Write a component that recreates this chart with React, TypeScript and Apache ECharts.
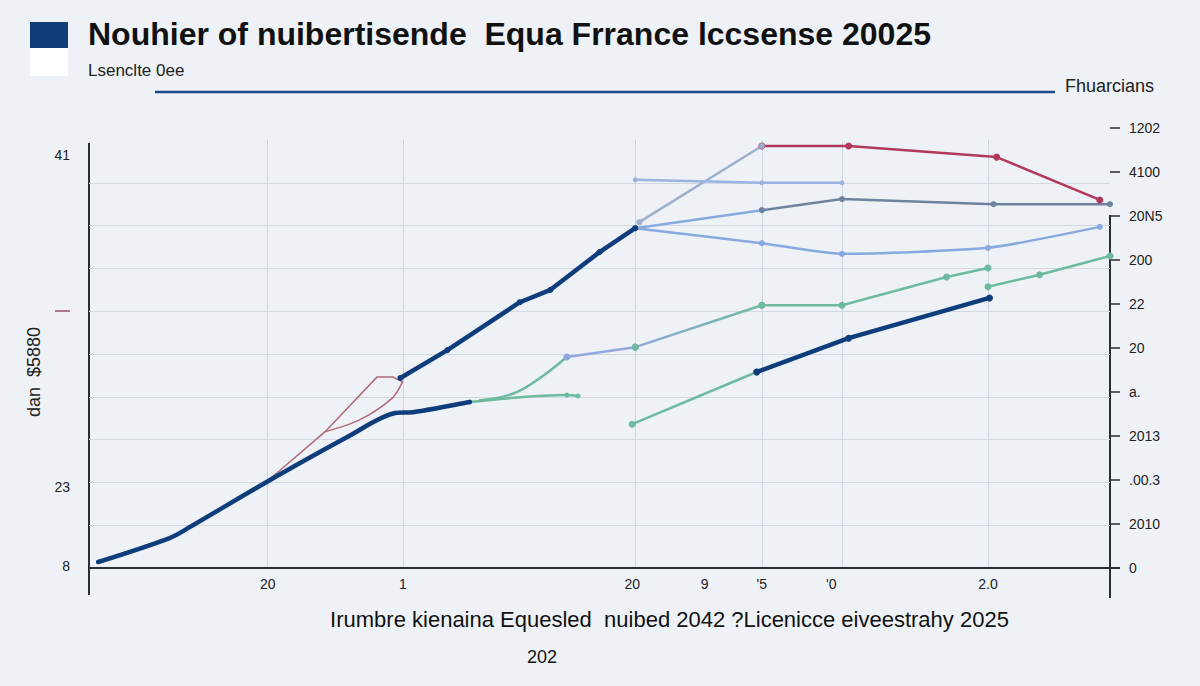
import React, { useEffect, useRef } from "react";
import * as echarts from "echarts";

// ---- text ----
const titleText = "Nouhier of nuibertisende  Equa Frrance lccsense 20025";
const subtitleText = "Lsenclte 0ee";
const cornerText = "Fhuarcians";
const yAxisName = "dan  $5880";
const xAxisName = "Irumbre kienaina Equesled  nuibed 2042 ?Licenicce eiveestrahy 2025";
const xAxisSubName = "202";

// ---- axes ----
const xGridPositions = [17.5, 30.75, 53.5, 65.9, 73.75, 88.05];
const xLabelPositions = [17.5, 30.75, 53.2, 60.3, 65.9, 72.7, 88.05];
const xLabels = ["20", "1", "20", "9", "'5", "'0", "2.0"];
const leftLabelPositions = [0.05, 1.89, 9.65];
const leftLabels = ["8", "23", "41"];
const rightLabels = ["0", "2010", ".00.3", "2013", "a.", "20", "22", "200", "20N5", "4100", "1202"];

// ---- series ----
const navyLower = [[0.9, 0.14], [7.9, 0.7], [9.9, 0.96], [17.4, 2.01], [25.3, 3.06], [30.0, 3.62], [31.7, 3.64], [37.3, 3.88]];
const navyUpper = [[30.5, 4.44], [35.1, 5.09], [42.2, 6.21], [45.2, 6.5], [50.0, 7.38], [53.5, 7.94]];
const navyRight = [[65.4, 4.58], [74.4, 5.37], [88.2, 6.31]];
const redUpper = [[17.5, 2.05], [18.4, 2.22], [23.1, 3.18], [28.2, 4.46], [29.8, 4.46], [30.7, 4.35]];
const redLower = [[23.1, 3.18], [26.5, 3.46], [29.7, 3.97], [30.7, 4.35]];
const crimson = [[65.9, 9.86], [74.4, 9.86], [88.9, 9.6], [99.0, 8.6]];
const greyRise = [[53.9, 8.08], [65.9, 9.86]];
const topFlat = [[53.5, 9.07], [65.9, 9.0], [73.75, 9.0]];
const blueToSlate = [[53.5, 7.94], [65.9, 8.36]];
const slate = [[65.9, 8.36], [73.75, 8.62], [88.6, 8.5], [100, 8.5]];
const midBlue = [[53.5, 7.94], [65.9, 7.59], [73.75, 7.34], [88.05, 7.48], [99.0, 7.97]];
const lavender = [[46.8, 4.93], [53.5, 5.16]];
const lavenderToTeal = [[53.5, 5.16], [65.9, 6.14]];
const tealShort = [[37.3, 3.88], [46.8, 4.04], [47.9, 4.02]];
const tealCurve = [[38.3, 3.92], [42.0, 4.12], [46.8, 4.93]];
const tealUpper = [[65.9, 6.14], [73.75, 6.14], [84.0, 6.8], [88.05, 7.01]];
const tealLower = [[53.2, 3.36], [65.4, 4.58]];
const tealRight = [[88.05, 6.57], [93.1, 6.85], [100, 7.29]];

const NAVY = "#0f3d7c";
const TEAL = "#6dbaa0";
const LIGHT = "#88a9df";

function line(name: string, data: number[][], color: any, width: number, symbolSize: number, smooth: number, z = 3) {
  return {
    name,
    type: "line",
    xAxisIndex: 0,
    yAxisIndex: 0,
    data,
    smooth: smooth > 0 ? smooth : false,
    symbol: symbolSize > 0 ? "circle" : "none",
    symbolSize,
    z,
    lineStyle: { color, width, cap: "round", join: "round" },
    itemStyle: { color: typeof color === "string" ? color : TEAL },
  };
}

export default function App() {
  const ref = useRef<HTMLDivElement>(null);
  useEffect(() => {
    document.body.style.margin = "0";
    const chart = echarts.init(ref.current!, undefined, { renderer: "svg" });
    const gradLavTeal = new echarts.graphic.LinearGradient(0, 0, 1, 0, [
      { offset: 0, color: "#95a8dc" },
      { offset: 1, color: TEAL },
    ]);
    const labelMap: Record<string, string> = {};
    xLabelPositions.forEach((p, i) => (labelMap[String(p)] = xLabels[i]));
    const leftMap: Record<string, string> = {};
    leftLabelPositions.forEach((p, i) => (leftMap[String(p)] = leftLabels[i]));

    chart.setOption({
      animation: false,
      backgroundColor: "#eef2f6",
      textStyle: { fontFamily: "Liberation Sans, Arial, sans-serif" },
      grid: [
        { left: 89, right: 90, top: 140, bottom: 118 },
        { left: 89, right: 90, top: 128, bottom: 118 },
      ],
      xAxis: [
        {
          type: "value",
          gridIndex: 0,
          min: 0,
          max: 100,
          axisLine: { show: true, lineStyle: { color: "#2a2e35", width: 2 } },
          axisTick: { show: false, customValues: xGridPositions },
          splitLine: { show: true, lineStyle: { color: "#cdd5df", width: 1 } },
          axisLabel: {
            customValues: xLabelPositions,
            formatter: (v: number) => labelMap[String(v)] ?? "",
            color: "#222",
            fontSize: 14,
            margin: 9,
          },
          name: xAxisName,
          nameLocation: "middle",
          nameGap: 40,
          nameTextStyle: { color: "#111", fontSize: 22, padding: [0, 0, 0, 140] },
        },
        { type: "value", gridIndex: 1, min: 0, max: 100, show: false },
      ],
      yAxis: [
        {
          type: "value",
          gridIndex: 0,
          min: 0,
          max: 10,
          interval: 1,
          axisLine: { show: false, onZero: false },
          axisTick: { show: false },
          splitLine: { show: true, showMaxLine: false, showMinLine: false, lineStyle: { color: "#d3d9e1", width: 1.2 } },
          axisLabel: {
            customValues: leftLabelPositions,
            formatter: (v: number) => leftMap[String(v)] ?? "",
            color: "#222",
            fontSize: 14,
            margin: 19,
          },
          name: yAxisName,
          nameLocation: "middle",
          nameRotate: 90,
          nameGap: 46,
          nameTextStyle: { color: "#222", fontSize: 18, padding: [0, 36, 0, 0] },
        },
        {
          type: "value",
          gridIndex: 1,
          position: "right",
          min: 0,
          max: 10,
          interval: 1,
          axisLine: { show: false, onZero: false },
          axisTick: { show: true, inside: false, length: 10, lineStyle: { color: "#2a2e35", width: 1.5 } },
          splitLine: { show: false },
          axisLabel: {
            formatter: (v: number) => rightLabels[Math.round(v)] ?? "",
            color: "#222",
            fontSize: 14,
            margin: 19,
          },
        },
      ],
      graphic: [
        { type: "rect", shape: { x: 30, y: 22, width: 38, height: 26 }, style: { fill: "#103d7a" } },
        { type: "rect", shape: { x: 30, y: 48, width: 38, height: 28 }, style: { fill: "#ffffff" } },
        {
          type: "text",
          x: 88,
          y: 34,
          style: { text: titleText, fill: "#111", font: "bold 32px 'Liberation Sans', Arial, sans-serif", verticalAlign: "middle" },
        },
        {
          type: "text",
          x: 88,
          y: 70,
          style: { text: subtitleText, fill: "#222", font: "17px 'Liberation Sans', Arial, sans-serif", verticalAlign: "middle" },
        },
        { type: "line", shape: { x1: 155, y1: 92, x2: 1055, y2: 92 }, style: { stroke: "#1d4a8a", lineWidth: 2.5 } },
        {
          type: "text",
          x: 1065,
          y: 86,
          style: { text: cornerText, fill: "#222", font: "18px 'Liberation Sans', Arial, sans-serif", verticalAlign: "middle" },
        },
        { type: "line", shape: { x1: 89, y1: 143, x2: 89, y2: 595 }, style: { stroke: "#2a2e35", lineWidth: 2 } },
        { type: "line", shape: { x1: 1110, y1: 215, x2: 1110, y2: 598 }, style: { stroke: "#2a2e35", lineWidth: 2 } },
        { type: "line", shape: { x1: 1110, y1: 568, x2: 1120, y2: 568 }, style: { stroke: "#2a2e35", lineWidth: 2 } },
        { type: "line", shape: { x1: 55, y1: 311, x2: 70, y2: 311 }, style: { stroke: "#b07888", lineWidth: 2 } },
        {
          type: "text",
          x: 542,
          y: 657,
          style: { text: xAxisSubName, fill: "#111", font: "18px 'Liberation Sans', Arial, sans-serif", align: "center", verticalAlign: "middle" },
        },
      ],
      series: [
        line("navyLower", navyLower, NAVY, 4.5, 0, 0.3, 5),
        line("navyUpper", navyUpper, NAVY, 4.5, 6, 0, 5),
        line("navyRight", navyRight, NAVY, 4.5, 7, 0, 5),
        line("redUpper", redUpper, "#b06a78", 1.5, 0, 0),
        line("redLower", redLower, "#b06a78", 1.5, 0, 0.3),
        line("crimson", crimson, "#b3395c", 2.5, 7, 0),
        line("greyRise", greyRise, "#9eb0cf", 2.5, 6, 0),
        line("topFlat", topFlat, "#9ab3e0", 2.5, 5, 0),
        line("blueToSlate", blueToSlate, LIGHT, 2.5, 6, 0),
        line("slate", slate, "#6f839f", 2.5, 6, 0),
        line("midBlue", midBlue, LIGHT, 2.5, 6, 0.2),
        line("lavender", lavender, "#93a8de", 2.5, 7, 0),
        line("lavenderToTeal", lavenderToTeal, gradLavTeal, 2.5, 7, 0),
        line("tealShort", tealShort, TEAL, 2.5, 5, 0.3),
        line("tealCurve", tealCurve, TEAL, 2.5, 0, 0.4),
        line("tealUpper", tealUpper, TEAL, 2.5, 7, 0),
        line("tealLower", tealLower, TEAL, 2.5, 7, 0),
        line("tealRight", tealRight, TEAL, 2.5, 7, 0),
      ],
    });
    return () => chart.dispose();
  }, []);
  return <div ref={ref} style={{ width: 1200, height: 686 }} />;
}
